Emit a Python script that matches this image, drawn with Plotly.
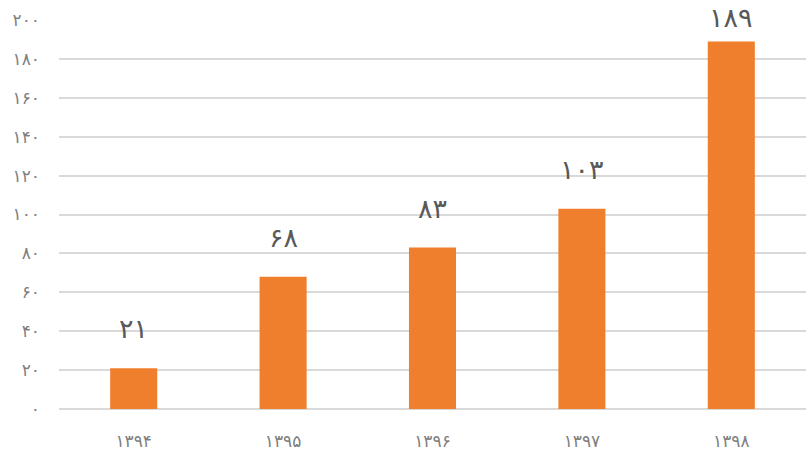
import plotly.graph_objects as go

categories = ["۱۳۹۴", "۱۳۹۵", "۱۳۹۶", "۱۳۹۷", "۱۳۹۸"]
values = [21, 68, 83, 103, 189]
value_labels = ["۲۱", "۶۸", "۸۳", "۱۰۳", "۱۸۹"]
tick_vals = [0, 20, 40, 60, 80, 100, 120, 140, 160, 180, 200]
tick_text = ["۰", "۲۰", "۴۰", "۶۰", "۸۰", "۱۰۰", "۱۲۰", "۱۴۰", "۱۶۰", "۱۸۰", "۲۰۰"]

FONT = "DejaVu Sans"
fig = go.Figure()
fig.add_trace(go.Bar(x=categories, y=values, marker_color="#F07F2D",
                     marker_line_width=0, width=0.315, hoverinfo="skip"))

for c, v, t in zip(categories, values, value_labels):
    fig.add_annotation(x=c, y=v, text=t, showarrow=False, yanchor="bottom",
                       yshift=22 if v < 180 else 6,
                       font=dict(family=FONT, size=27, color="#595959"))

fig.update_layout(
    width=806, height=452,
    margin=dict(l=59, r=0, t=20, b=43),
    plot_bgcolor="white", paper_bgcolor="white",
    showlegend=False,
    bargap=0.685,
    xaxis=dict(showgrid=False, showline=False, ticks="", tickfont=dict(family=FONT, size=17, color="#7F7F7F"),
               ticklabelstandoff=20),
    yaxis=dict(range=[0, 200], tickvals=tick_vals, ticktext=tick_text, showgrid=True,
               gridcolor="#D9D9D9", gridwidth=1.5, zeroline=True, zerolinecolor="#D9D9D9", zerolinewidth=1.5,
               tickfont=dict(family=FONT, size=17, color="#7F7F7F"), ticklabelstandoff=18),
)
fig.write_html("out.html")
